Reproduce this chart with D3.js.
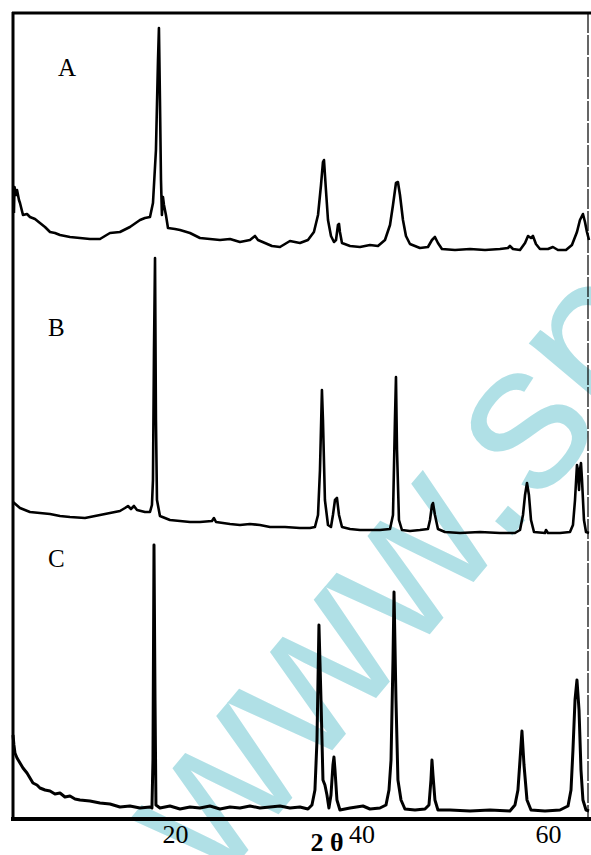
<!DOCTYPE html>
<html>
<head>
<meta charset="utf-8">
<script src="https://cdn.jsdelivr.net/npm/d3@7"></script>
<style>
  body { margin: 0; background: #fff; }
  svg { display: block; }
</style>
</head>
<body>
<svg id="xrd" width="591" height="855"></svg>
<script>
// 2theta (deg), intensity (a.u.)
const traceA = [
  [2.73, 46], [2.79, 72], [2.95, 64], [3.06, 69], [3.27, 59], [3.38, 56], [3.70, 44], [4.13, 45],
  [4.45, 42], [4.99, 40], [5.52, 36], [6.06, 32], [6.60, 27], [7.13, 26], [7.67, 24], [8.74, 22],
  [9.81, 21], [10.88, 20], [11.96, 20], [12.49, 23], [13.03, 26], [14.10, 27], [15.17, 32], [16.25, 39],
  [16.78, 41], [17.32, 42], [17.64, 56], [17.96, 109], [18.18, 199], [18.28, 231], [18.39, 159], [18.50, 79],
  [18.60, 44], [18.71, 62], [18.82, 54], [19.03, 44], [19.25, 31], [20.0, 30], [20.54, 29], [21.61, 26],
  [22.68, 21], [23.75, 20], [24.83, 19], [25.90, 20], [26.97, 17], [28.04, 19], [28.58, 23], [28.90, 19],
  [29.65, 16], [30.40, 13], [31.26, 12], [32.33, 18], [33.40, 16], [34.26, 19], [34.90, 27], [35.34, 44],
  [35.66, 74], [35.87, 97], [35.98, 99], [36.19, 69], [36.41, 39], [36.73, 23], [37.05, 17], [37.27, 19],
  [37.48, 34], [37.59, 35], [37.69, 27], [37.91, 16], [38.77, 13], [39.84, 12], [40.91, 14], [41.77, 13],
  [42.52, 19], [43.06, 34], [43.38, 54], [43.70, 76], [43.91, 77], [44.13, 64], [44.45, 39], [44.77, 23],
  [45.20, 15], [46.27, 11], [47.13, 12], [47.56, 19], [47.88, 22], [48.20, 16], [48.63, 10], [50.03, 9],
  [51.64, 10], [53.25, 9], [54.85, 10], [55.71, 11], [55.92, 13], [56.25, 10], [57.00, 9], [57.54, 16],
  [57.86, 23], [58.18, 21], [58.39, 23], [58.71, 15], [59.14, 10], [60.00, 10], [60.53, 12], [61.07, 9],
  [61.93, 9], [62.57, 14], [63.11, 27], [63.43, 39], [63.75, 45], [63.97, 37], [64.18, 27], [64.40, 19]
];

const traceB = [
  [2.63, 31], [3.38, 25], [4.45, 21], [5.52, 20], [6.60, 19], [7.67, 17], [8.74, 16], [10.35, 15],
  [11.96, 18], [13.03, 20], [14.10, 22], [14.64, 25], [14.96, 27], [15.28, 24], [15.60, 27], [15.93, 23],
  [16.78, 21], [17.32, 21], [17.53, 28], [17.64, 53], [17.75, 183], [17.86, 275], [17.96, 113], [18.07, 33],
  [18.39, 17], [19.46, 13], [20.54, 12], [21.61, 11], [22.68, 11], [23.97, 12], [24.18, 15], [24.40, 11],
  [25.90, 9], [26.97, 8], [28.04, 9], [29.11, 8], [30.19, 6], [31.80, 6], [33.40, 5], [34.48, 5],
  [35.01, 6], [35.34, 18], [35.55, 63], [35.76, 143], [35.87, 113], [36.08, 33], [36.41, 8], [36.73, 6],
  [36.94, 18], [37.16, 33], [37.37, 35], [37.59, 18], [37.91, 6], [38.77, 4], [39.84, 3], [40.91, 3],
  [41.98, 3], [43.06, 4], [43.38, 18], [43.59, 113], [43.70, 156], [43.81, 83], [44.02, 13], [44.34, 3],
  [45.20, 2], [46.27, 3], [47.13, 4], [47.35, 13], [47.56, 28], [47.67, 30], [47.88, 18], [48.20, 4],
  [48.95, 1], [50.56, 0], [52.71, 1], [54.85, 0], [56.46, 0], [57.00, 3], [57.32, 18], [57.54, 38],
  [57.75, 50], [57.96, 38], [58.18, 13], [58.50, 1], [59.68, 0], [59.79, 3], [60.00, 0], [61.29, 0],
  [62.36, 1], [62.68, 8], [62.90, 33], [63.11, 68], [63.22, 63], [63.33, 43], [63.43, 63], [63.54, 70],
  [63.65, 53], [63.86, 13], [64.08, 1], [64.40, 0]
];

const traceC = [
  [2.63, 84], [2.73, 74], [2.84, 66], [3.06, 61], [3.38, 56], [3.70, 51], [4.13, 46], [4.45, 41],
  [4.77, 36], [5.20, 34], [5.52, 31], [6.06, 29], [6.60, 28], [7.13, 25], [7.67, 26], [8.20, 22],
  [8.74, 23], [9.28, 20], [9.81, 19], [10.88, 18], [11.96, 16], [13.03, 15], [14.10, 12], [15.17, 13],
  [16.25, 11], [17.32, 12], [17.53, 11], [17.64, 59], [17.75, 274], [17.86, 119], [17.96, 14], [18.39, 11],
  [19.46, 13], [20.54, 10], [21.61, 12], [22.68, 11], [23.75, 13], [24.83, 10], [25.90, 12], [26.97, 11],
  [28.04, 13], [29.11, 11], [30.19, 12], [31.26, 13], [32.33, 11], [33.40, 12], [34.26, 10], [34.69, 14],
  [35.01, 29], [35.23, 79], [35.44, 194], [35.66, 119], [35.87, 39], [36.08, 34], [36.30, 24], [36.51, 11],
  [36.73, 24], [36.94, 54], [37.05, 62], [37.16, 49], [37.37, 19], [37.69, 9], [38.77, 11], [40.16, 13],
  [40.91, 10], [41.98, 11], [42.63, 14], [42.95, 29], [43.17, 59], [43.38, 159], [43.49, 227], [43.70, 119],
  [43.91, 39], [44.24, 19], [44.66, 10], [45.74, 9], [46.81, 10], [47.24, 14], [47.45, 39], [47.56, 59],
  [47.67, 44], [47.88, 19], [48.20, 9], [49.49, 9], [51.64, 8], [53.78, 9], [55.92, 8], [56.46, 14],
  [56.78, 29], [57.00, 59], [57.21, 88], [57.43, 54], [57.75, 19], [58.18, 9], [59.68, 8], [61.29, 9],
  [62.15, 13], [62.47, 29], [62.68, 69], [62.90, 119], [63.11, 139], [63.33, 109], [63.54, 49], [63.75, 19],
  [64.08, 9], [64.40, 8]
];

const traceNames = ['A', 'B', 'C'];
const traceOffsets = [560, 286, 0];
const tickValues = [20, 40, 60];

const svg = d3.select('#xrd');
const LEFT = 13, RIGHT = 589, TOP = 13, BOTTOM = 819;

const x = d3.scaleLinear().domain([2.63, 64.4]).range([LEFT, RIGHT]);
const y = d3.scaleLinear().domain([0, 806]).range([BOTTOM, TOP]);

// watermark
svg.append('text')
  .text('www.sp')
  .attr('transform', 'translate(215,890) rotate(-50)')
  .attr('font-family', 'Liberation Sans, Arial, sans-serif')
  .attr('font-size', 210)
  .attr('fill', '#b0e0e6');

// frame
svg.append('line').attr('x1', LEFT).attr('x2', LEFT).attr('y1', TOP - 1).attr('y2', BOTTOM)
  .attr('stroke', '#000').attr('stroke-width', 3);
svg.append('line').attr('x1', LEFT - 1).attr('x2', 591).attr('y1', TOP).attr('y2', TOP)
  .attr('stroke', '#000').attr('stroke-width', 3);
svg.append('line').attr('x1', RIGHT - 1).attr('x2', RIGHT - 1).attr('y1', TOP).attr('y2', BOTTOM)
  .attr('stroke', '#000').attr('stroke-width', 1.2).attr('stroke-dasharray', '20,2');

const line = d3.line()
  .x(d => x(d[0]))
  .y(d => y(d[1]));

[traceA, traceB, traceC].forEach(function (trace, i) {
  const off = traceOffsets[i];
  svg.append('path')
    .datum(trace.map(d => [d[0], d[1] + off]))
    .attr('d', line)
    .attr('fill', 'none')
    .attr('stroke', '#000')
    .attr('stroke-width', i === 2 ? 3 : 2.6)
    .attr('stroke-linejoin', 'round');
});

// panel letters
const letterPos = [[58, 76], [48, 336], [48, 567]];
traceNames.forEach(function (name, i) {
  svg.append('text')
    .text(name)
    .attr('x', letterPos[i][0])
    .attr('y', letterPos[i][1])
    .attr('font-family', 'Liberation Serif, Times New Roman, serif')
    .attr('font-size', 25)
    .attr('fill', '#000');
});

// bottom axis
const axis = svg.append('g')
  .attr('transform', 'translate(0,' + BOTTOM + ')')
  .call(d3.axisBottom(x).tickValues(tickValues).tickSize(0).tickPadding(6));
axis.select('.domain').attr('stroke', '#000').attr('stroke-width', 4)
  .attr('d', 'M' + (LEFT - 2) + ',0H591');
axis.selectAll('text')
  .attr('font-family', 'Liberation Serif, Times New Roman, serif')
  .attr('font-size', 26)
  .attr('fill', '#000');

svg.append('text')
  .text('2 θ')
  .attr('x', 327)
  .attr('y', 851)
  .attr('text-anchor', 'middle')
  .attr('font-family', 'Liberation Serif, Times New Roman, serif')
  .attr('font-weight', 'bold')
  .attr('font-size', 26)
  .attr('fill', '#000');
</script>
</body>
</html>
